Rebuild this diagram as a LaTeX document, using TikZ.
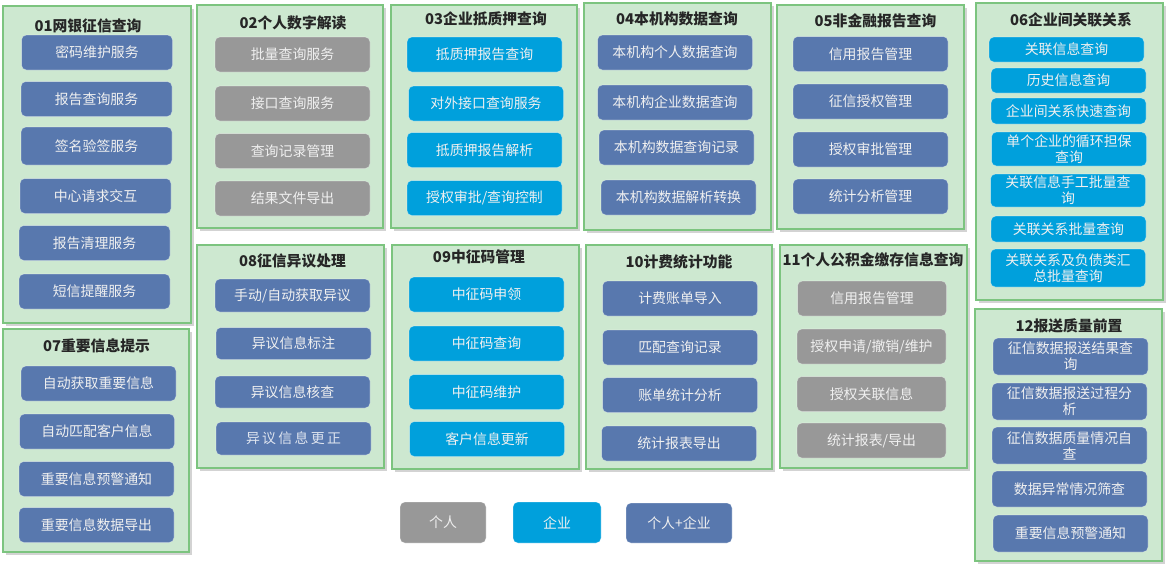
\documentclass[tikz,border=0pt]{standalone}
\usepackage{fontspec}
\setmainfont{Noto Sans CJK SC}
\usetikzlibrary{shadows}

\definecolor{panelfill}{HTML}{CDE8D0}
\definecolor{panelline}{HTML}{7CC47F}
\definecolor{cgrey}{HTML}{989898}
\definecolor{ccyan}{HTML}{00A0DC}
\definecolor{cslate}{HTML}{5878AE}

\tikzset{
  panel/.style={draw=panelline, fill=panelfill, line width=1.2pt, inner sep=0pt,
    drop shadow={shadow xshift=2.5pt, shadow yshift=-2.5pt, opacity=0.35}},
  title/.style={font=\fontsize{14.8}{16}\selectfont\bfseries, text=black!85},
  item/.style={rounded corners=5pt, inner sep=0pt, minimum width=155pt, minimum height=35pt,
    text=white!94!black, font=\fontsize{13.9}{16}\selectfont, align=center,
    draw=white, draw opacity=0.35, line width=0.6pt},
  ind/.style={item, fill=cgrey},
  ent/.style={item, fill=ccyan},
  both/.style={item, fill=cslate},
}

\begin{document}
\begin{tikzpicture}[x=1pt, y=-1pt]
      \useasboundingbox (0,0) rectangle (1176,574);
      % Define panels
      \node[panel, minimum width=188pt, minimum height=317pt] (p01) at (97,164.5) {};
      \node[panel, minimum width=186pt, minimum height=223pt] (p02) at (290,116.5) {};
      \node[panel, minimum width=186pt, minimum height=223pt] (p03) at (484,116.5) {};
      \node[panel, minimum width=187pt, minimum height=227pt] (p04) at (677.5,116.5) {};
      \node[panel, minimum width=187pt, minimum height=224pt] (p05) at (870.5,117) {};
      \node[panel, minimum width=187pt, minimum height=297pt] (p06) at (1069.5,151.5) {};
      \node[panel, minimum width=186pt, minimum height=223pt] (p07) at (96,440.5) {};
      \node[panel, minimum width=187pt, minimum height=223pt] (p08) at (290.5,356.5) {};
      \node[panel, minimum width=187pt, minimum height=224pt] (p09) at (485.5,357) {};
      \node[panel, minimum width=186pt, minimum height=224pt] (p10) at (679,357) {};
      \node[panel, minimum width=187pt, minimum height=223pt] (p11) at (873.5,356.5) {};
      \node[panel, minimum width=187pt, minimum height=252pt] (p12) at (1068.5,435) {};
      % Titles
      \node[title] (t01) at (88,26) {01网银征信查询};
      \node[title] (t02) at (293,23) {02个人数字解读};
      \node[title] (t03) at (486,19) {03企业抵质押查询};
      \node[title] (t04) at (677,19) {04本机构数据查询};
      \node[title] (t05) at (875.5,21) {05非金融报告查询};
      \node[title] (t06) at (1071,20) {06企业间关联关系};
      \node[title] (t07) at (96.5,346) {07重要信息提示};
      \node[title] (t08) at (292.5,261) {08征信异议处理};
      \node[title] (t09) at (479,257) {09中征码管理};
      \node[title] (t10) at (679,262) {10计费统计功能};
      \node[title] (t11) at (873,260) {11个人公积金缴存信息查询};
      \node[title] (t12) at (1069,326) {12报送质量前置};
      % 01
      \node[both, minimum width=151pt] (b011) at (97,52.5) {密码维护服务};
      \node[both, minimum width=151pt] (b012) at (96.5,99) {报告查询服务};
      \node[both, minimum width=151pt, minimum height=38pt] (b013) at (96.5,146) {签名验签服务};
      \node[both, minimum width=151pt] (b014) at (95.5,196) {中心请求交互};
      \node[both, minimum width=151pt] (b015) at (94.5,243) {报告清理服务};
      \node[both, minimum width=151pt] (b016) at (94.5,291.5) {短信提醒服务};
      % 02
      \node[ind] (b021) at (292.5,54.5) {批量查询服务};
      \node[ind] (b022) at (292.5,103.5) {接口查询服务};
      \node[ind] (b023) at (292.5,151) {查询记录管理};
      \node[ind] (b024) at (292.5,198.5) {结果文件导出};
      % 03
      \node[ent] (b031) at (484.5,54.5) {抵质押报告查询};
      \node[ent] (b032) at (486,103.5) {对外接口查询服务};
      \node[ent] (b033) at (484.5,150) {抵质押报告解析};
      \node[ent] (b034) at (484.5,198) {授权审批/查询控制};
      % 04
      \node[both] (b041) at (675,52.5) {本机构个人数据查询};
      \node[both] (b042) at (675,102.5) {本机构企业数据查询};
      \node[both] (b043) at (676.5,147.5) {本机构数据查询记录};
      \node[both] (b044) at (678.5,197.5) {本机构数据解析转换};
      % 05
      \node[both] (b051) at (870.5,54) {信用报告管理};
      \node[both] (b052) at (870.5,101.5) {征信授权管理};
      \node[both] (b053) at (870.5,149.5) {授权审批管理};
      \node[both] (b054) at (870.5,196.5) {统计分析管理};
      % 06
      \node[ent, minimum height=25pt] (b061) at (1066.5,49.5) {关联信息查询};
      \node[ent, minimum height=25pt] (b062) at (1068.5,80.5) {历史信息查询};
      \node[ent, minimum height=26pt] (b063) at (1068.5,111) {企业间关系快速查询};
      \node[ent, minimum height=34pt] (b064) at (1069,149) {单个企业的循环担保\\查询};
      \node[ent, minimum height=33pt] (b065) at (1068,190.5) {关联信息手工批量查\\询};
      \node[ent, minimum height=26pt] (b066) at (1068.5,229) {关联关系批量查询};
      \node[ent, minimum height=38pt] (b067) at (1068,268) {关联关系及负债类汇\\总批量查询};
      % 07
      \node[both] (b071) at (98.5,383.5) {自动获取重要信息};
      \node[both] (b072) at (97,431.5) {自动匹配客户信息};
      \node[both] (b073) at (96.5,479) {重要信息预警通知};
      \node[both] (b074) at (96.5,525) {重要信息数据导出};
      % 08
      \node[both, minimum height=33pt] (b081) at (292.5,295.5) {手动/自动获取异议};
      \node[both, minimum height=32pt] (b082) at (293.5,343.5) {异议信息标注};
      \node[both, minimum height=32pt] (b083) at (292.5,392) {异议信息核查};
      \node[both, minimum height=33pt, text=white!80!cslate] (b084) at (293.5,438.5) {异\,议\,信\,息\,更\,正};
      % 09
      \node[ent] (b091) at (486.5,294.5) {中征码申领};
      \node[ent] (b092) at (486.5,343.5) {中征码查询};
      \node[ent] (b093) at (486.5,392) {中征码维护};
      \node[ent] (b094) at (487,439) {客户信息更新};
      % 10
      \node[both] (b101) at (680,298.5) {计费账单导入};
      \node[both] (b102) at (680,347.5) {匹配查询记录};
      \node[both] (b103) at (680,395) {账单统计分析};
      \node[both] (b104) at (679,443.5) {统计报表导出};
      % 11
      \node[ind, minimum width=149pt] (b111) at (872,298.5) {信用报告管理};
      \node[ind, minimum width=149pt] (b112) at (871.5,346.5) {授权申请/撤销/维护};
      \node[ind, minimum width=149pt] (b113) at (871.5,394) {授权关联信息};
      \node[ind, minimum width=149pt] (b114) at (871.5,440.5) {统计报表/导出};
      % 12
      \node[both, minimum height=37pt] (b121) at (1070.5,356.5) {征信数据报送结果查\\询};
      \node[both, minimum height=37pt] (b122) at (1069.5,401.5) {征信数据报送过程分\\析};
      \node[both, minimum height=37pt] (b123) at (1069.5,445.5) {征信数据质量情况自\\查};
      \node[both, minimum height=36pt] (b124) at (1069.5,489) {数据异常情况筛查};
      \node[both, minimum height=37pt] (b125) at (1070.5,533.5) {重要信息预警通知};
      % Legend
      \node[ind, minimum width=86pt, minimum height=41pt] (lind) at (443,522.5) {个人};
      \node[ent, minimum width=88pt, minimum height=41pt] (lent) at (557,522.5) {企业};
      \node[both, minimum width=106pt, minimum height=40pt] (lboth) at (679,523) {个人+企业};
\end{tikzpicture}
\end{document}
